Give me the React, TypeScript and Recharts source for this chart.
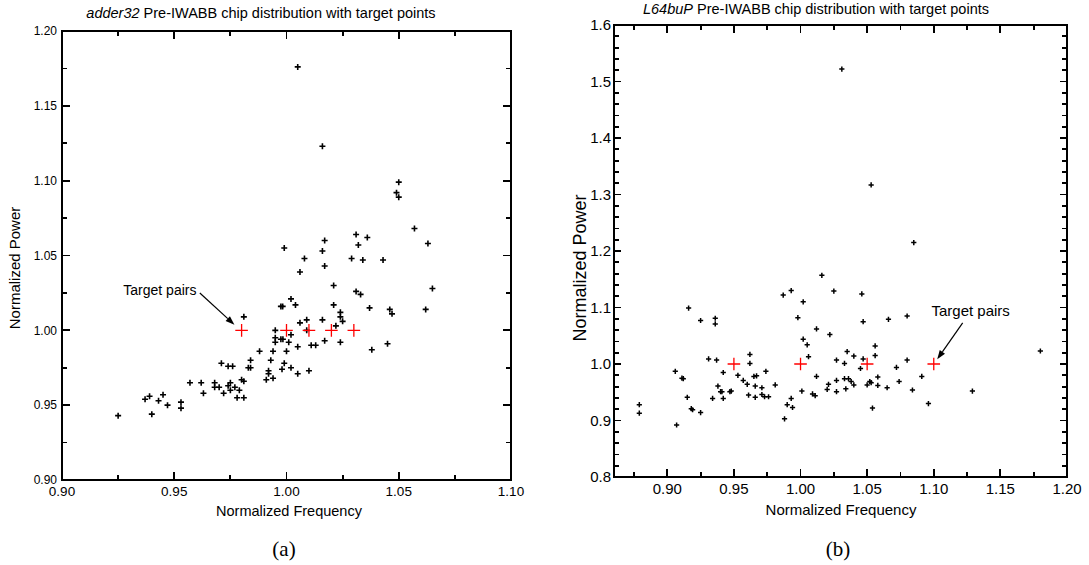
import React from "react";
import {
  ScatterChart,
  Scatter,
  XAxis,
  YAxis,
  ReferenceLine,
  ReferenceDot,
  ReferenceArea,
} from "recharts";

// ---- adder32 chip population (frequency, power) ----
const adderFreq = [
  0.925, 0.937, 0.939, 0.940, 0.943, 0.945, 0.947, 0.953, 0.953, 0.957,
  0.962, 0.963, 0.968, 0.968, 0.971, 0.970, 0.972, 0.974, 0.974, 0.975,
  0.976, 0.975, 0.977, 0.978, 0.979, 0.980, 0.981, 0.981, 0.981, 0.983,
  0.984, 0.984, 0.988, 0.991, 0.992, 0.992, 0.993, 0.994, 0.994, 0.995,
  0.995, 0.995, 0.9975, 0.9983, 0.9975, 0.9984, 0.998, 0.999, 1.000, 1.002,
  1.002, 1.001, 1.002, 1.004, 1.006, 1.005, 1.005, 1.009, 1.009, 1.010,
  1.011, 1.013, 1.016, 1.017, 1.021, 1.021, 1.022, 1.024, 1.024, 1.025,
  1.024, 1.031, 1.033, 1.037, 1.038, 1.046, 1.047, 1.045, 1.062, 1.065,
  1.006, 1.005, 1.016, 1.050, 1.049, 1.050, 1.057, 1.063, 0.999, 1.008,
  1.017, 1.016, 1.017, 1.031, 1.036, 1.032, 1.029, 1.034, 1.043,
];
const adderPower = [
  0.943, 0.954, 0.956, 0.944, 0.953, 0.957, 0.950, 0.952, 0.948, 0.965,
  0.965, 0.958, 0.965, 0.962, 0.978, 0.962, 0.958, 0.963, 0.976, 0.965,
  0.976, 0.960, 0.962, 0.955, 0.960, 0.967, 0.966, 0.955, 1.009, 0.975,
  0.980, 0.975, 0.986, 0.967, 0.973, 0.971, 0.980, 0.986, 0.968, 1.000,
  0.995, 0.992, 1.016, 1.016, 0.994, 0.994, 0.974, 0.978, 0.986, 1.021,
  0.997, 0.992, 0.975, 1.017, 1.005, 0.989, 0.971, 1.007, 1.000, 0.973,
  0.990, 0.990, 1.007, 0.993, 1.030, 1.017, 1.003, 1.012, 1.009, 1.006,
  0.992, 1.026, 1.024, 1.015, 0.987, 1.014, 1.011, 0.991, 1.014, 1.028,
  1.039, 1.176, 1.123, 1.099, 1.092, 1.089, 1.068, 1.058, 1.055, 1.048,
  1.060, 1.053, 1.043, 1.064, 1.062, 1.057, 1.048, 1.047, 1.047,
];
const adderTargetFreq = [0.98, 1.0, 1.01, 1.02, 1.03];
const adderTargetPower = [1.0, 1.0, 1.0, 1.0, 1.0];

// ---- L64buP chip population (frequency, power) ----
const l64Freq = [
  1.085, 1.031, 1.053, 1.016, 0.987, 0.993, 1.025, 1.046, 1.002, 0.916,
  0.925, 0.936, 0.936, 0.998, 1.047, 1.066, 1.080, 1.012, 1.022, 1.002,
  1.005, 1.056, 1.006, 1.035, 1.040, 1.056, 1.027, 1.047, 1.033, 1.045,
  0.931, 0.937, 0.962, 0.962, 1.080, 1.072, 1.180, 0.906, 0.942, 0.953,
  0.957, 0.960, 0.965, 0.967, 0.974, 0.966, 0.971, 0.911, 0.912, 0.938,
  0.940, 0.941, 0.947, 0.948, 0.934, 0.942, 0.915, 0.961, 0.966, 0.971,
  0.973, 0.976, 0.981, 0.918, 0.919, 0.925, 0.907, 0.879, 0.879, 0.988,
  0.990, 0.994, 0.993, 1.001, 1.009, 1.011, 1.012, 1.020, 1.021, 1.027,
  1.027, 1.033, 1.036, 1.034, 1.038, 1.040, 1.050, 1.052, 1.053, 1.058,
  1.058, 1.065, 1.054, 1.074, 1.084, 1.091, 1.096, 1.129,
];
const l64Power = [
  1.215, 1.522, 1.317, 1.157, 1.122, 1.130, 1.129, 1.124, 1.110, 1.099,
  1.077, 1.081, 1.071, 1.082, 1.075, 1.079, 1.085, 1.062, 1.052, 1.044,
  1.034, 1.032, 1.013, 1.022, 1.014, 1.015, 1.007, 1.009, 1.001, 0.992,
  1.009, 1.007, 1.017, 1.001, 1.007, 0.994, 1.023, 0.987, 0.985, 0.980,
  0.971, 0.964, 0.978, 0.979, 0.987, 0.961, 0.958, 0.975, 0.974, 0.961,
  0.951, 0.951, 0.951, 0.952, 0.939, 0.939, 0.941, 0.945, 0.941, 0.946,
  0.942, 0.942, 0.963, 0.921, 0.919, 0.914, 0.892, 0.928, 0.913, 0.903,
  0.928, 0.923, 0.939, 0.952, 0.947, 0.944, 0.978, 0.955, 0.964, 0.951,
  0.971, 0.974, 0.974, 0.956, 0.969, 0.963, 0.963, 0.969, 0.967, 0.977,
  0.962, 0.958, 0.922, 0.969, 0.954, 0.978, 0.930, 0.952,
];
const l64TargetFreq = [0.95, 1.0, 1.05, 1.1];
const l64TargetPower = [1.0, 1.0, 1.0, 1.0];

// ---- axis ticks ----
const adderXTicks = [0.9, 0.925, 0.95, 0.975, 1.0, 1.025, 1.05, 1.075, 1.1];
const adderYTicks = [
  0.9, 0.925, 0.95, 0.975, 1.0, 1.025, 1.05, 1.075, 1.1, 1.125, 1.15, 1.175, 1.2,
];
const l64XTicks = [
  0.875, 0.9, 0.925, 0.95, 0.975, 1.0, 1.025, 1.05, 1.075, 1.1, 1.125, 1.15,
  1.175, 1.2,
];
const l64YTicks = [
  0.8, 0.82, 0.84, 0.86, 0.88, 0.9, 0.92, 0.94, 0.96, 0.98, 1.0, 1.02, 1.04,
  1.06, 1.08, 1.1, 1.12, 1.14, 1.16, 1.18, 1.2, 1.22, 1.24, 1.26, 1.28, 1.3,
  1.32, 1.34, 1.36, 1.38, 1.4, 1.42, 1.44, 1.46, 1.48, 1.5, 1.52, 1.54, 1.56,
  1.58, 1.6,
];

// annotation anchors (data units)
const adderNoteText = { x: 0.9436, y: 1.0268 };
const adderNoteArrow = [
  { x: 0.9614, y: 1.0249 },
  { x: 0.9768, y: 1.0038 },
];
const l64NoteText = { x: 1.1277, y: 1.0941 };
const l64NoteArrow = [
  { x: 1.1217, y: 1.0729 },
  { x: 1.1026, y: 1.0085 },
];

const ADDER_X: [number, number] = [0.9, 1.1];
const ADDER_Y: [number, number] = [0.9, 1.2];
const L64_X: [number, number] = [0.86, 1.2];
const L64_Y: [number, number] = [0.8, 1.6];

const zip = (xs: number[], ys: number[]) => xs.map((x, i) => ({ x, y: ys[i] }));
const adderData = zip(adderFreq, adderPower);
const adderTargets = zip(adderTargetFreq, adderTargetPower);
const l64Data = zip(l64Freq, l64Power);
const l64Targets = zip(l64TargetFreq, l64TargetPower);

const SANS = '"Liberation Sans", Arial, Helvetica, sans-serif';
const isMultiple = (v: number, step: number) =>
  Math.abs(v / step - Math.round(v / step)) < 1e-6;

// "+" marker
const makePlus = (arm: number, color: string, width: number) => (props: any) => {
  const { cx, cy } = props;
  if (cx == null || cy == null) return <g />;
  return (
    <path
      d={`M${cx - arm},${cy}H${cx + arm}M${cx},${cy - arm}V${cy + arm}`}
      stroke={color}
      strokeWidth={width}
      fill="none"
    />
  );
};

// tick labels for the major ticks
const makeLabel = (
  side: "bottom" | "left",
  majorStep: number,
  fmt: (v: number) => string,
  fontSize: number,
  gap: number
) => (props: any) => {
  const { x, y, payload } = props;
  const v = payload.value as number;
  if (!isMultiple(v, majorStep)) return <g />;
  if (side === "bottom") {
    return (
      <text x={x} y={y + gap} textAnchor="middle" fontSize={fontSize} fontFamily={SANS} fill="#000">
        {fmt(v)}
      </text>
    );
  }
  return (
    <text x={x - gap} y={y} dy="0.36em" textAnchor="end" fontSize={fontSize} fontFamily={SANS} fill="#000">
      {fmt(v)}
    </text>
  );
};

type FrameSpec = {
  xd: [number, number];
  yd: [number, number];
  xTicks: number[];
  yTicks: number[];
  xMajor: number;
  yMajor: number;
  xLen: [number, number];
  yLen: [number, number];
};

// plot box spanning both full domains: frame plus inward ticks on all four edges
const makeFrame = (s: FrameSpec) => (props: any) => {
  const x = Number(props.x);
  const y = Number(props.y);
  const width = Number(props.width);
  const height = Number(props.height);
  if ([x, y, width, height].some((v) => !Number.isFinite(v))) return <g />;
  const px = (v: number) => x + ((v - s.xd[0]) / (s.xd[1] - s.xd[0])) * width;
  const py = (v: number) => y + height - ((v - s.yd[0]) / (s.yd[1] - s.yd[0])) * height;
  const bottom = y + height;
  const right = x + width;
  const marks: React.ReactNode[] = [];
  s.xTicks.forEach((v, i) => {
    const len = isMultiple(v, s.xMajor) ? s.xLen[0] : s.xLen[1];
    const xx = px(v);
    marks.push(
      <line key={`xb${i}`} x1={xx} y1={bottom} x2={xx} y2={bottom - len} />,
      <line key={`xt${i}`} x1={xx} y1={y} x2={xx} y2={y + len} />
    );
  });
  s.yTicks.forEach((v, i) => {
    const len = isMultiple(v, s.yMajor) ? s.yLen[0] : s.yLen[1];
    const yy = py(v);
    marks.push(
      <line key={`yl${i}`} x1={x} y1={yy} x2={x + len} y2={yy} />,
      <line key={`yr${i}`} x1={right} y1={yy} x2={right - len} y2={yy} />
    );
  });
  return (
    <g>
      <g stroke="#000" strokeWidth={1.8} shapeRendering="crispEdges">
        {marks}
      </g>
      <rect
        x={x}
        y={y}
        width={width}
        height={height}
        fill="none"
        stroke="#000"
        strokeWidth={1.8}
        shapeRendering="crispEdges"
      />
    </g>
  );
};

const ArrowShape = (props: any) => {
  const { x1, y1, x2, y2 } = props;
  if ([x1, y1, x2, y2].some((v) => v == null)) return <g />;
  const ang = Math.atan2(y2 - y1, x2 - x1);
  const hl = 9;
  const hw = 3.2;
  const bx = x2 - hl * Math.cos(ang);
  const by = y2 - hl * Math.sin(ang);
  const qx = -Math.sin(ang) * hw;
  const qy = Math.cos(ang) * hw;
  return (
    <g>
      <line x1={x1} y1={y1} x2={bx} y2={by} stroke="#000" strokeWidth={1.2} />
      <polygon points={`${x2},${y2} ${bx + qx},${by + qy} ${bx - qx},${by - qy}`} fill="#000" />
    </g>
  );
};

const NoteText = (fontSize: number) => (props: any) => {
  const { cx, cy } = props;
  if (cx == null || cy == null) return <g />;
  return (
    <text x={cx} y={cy} dy="0.36em" textAnchor="middle" fontSize={fontSize} fontFamily={SANS} fill="#000">
      Target pairs
    </text>
  );
};

const adderFrame = makeFrame({
  xd: ADDER_X,
  yd: ADDER_Y,
  xTicks: adderXTicks,
  yTicks: adderYTicks,
  xMajor: 0.05,
  yMajor: 0.05,
  xLen: [8, 5],
  yLen: [8, 5],
});
const l64Frame = makeFrame({
  xd: L64_X,
  yd: L64_Y,
  xTicks: l64XTicks,
  yTicks: l64YTicks,
  xMajor: 0.05,
  yMajor: 0.1,
  xLen: [8, 5],
  yLen: [7, 5],
});

export default function App() {
  return (
    <div
      style={{
        position: "absolute",
        left: 0,
        top: 0,
        width: 1089,
        height: 565,
        background: "#fff",
        overflow: "hidden",
      }}
    >
      {/* (a) adder32 */}
      <div style={{ position: "absolute", left: 0, top: 0 }}>
        <ScatterChart width={560} height={565} margin={{ top: 31, right: 49, bottom: 0, left: 0 }}>
          <XAxis
            xAxisId="b"
            type="number"
            dataKey="x"
            domain={ADDER_X}
            allowDataOverflow
            ticks={adderXTicks}
            interval={0}
            height={85}
            tickSize={0}
            tickMargin={0}
            tickLine={false}
            axisLine={false}
            tick={makeLabel("bottom", 0.05, (v) => v.toFixed(2), 13.5, 15.5)}
          />
          <YAxis
            yAxisId="l"
            type="number"
            dataKey="y"
            domain={ADDER_Y}
            allowDataOverflow
            ticks={adderYTicks}
            interval={0}
            width={62}
            tickSize={0}
            tickMargin={0}
            tickLine={false}
            axisLine={false}
            tick={makeLabel("left", 0.05, (v) => v.toFixed(2), 12, 5)}
          />
          <ReferenceArea
            xAxisId="b"
            yAxisId="l"
            x1={ADDER_X[0]}
            x2={ADDER_X[1]}
            y1={ADDER_Y[0]}
            y2={ADDER_Y[1]}
            ifOverflow="visible"
            shape={adderFrame}
          />
          <Scatter
            xAxisId="b"
            yAxisId="l"
            data={adderData}
            isAnimationActive={false}
            shape={makePlus(3, "#000", 1.6)}
          />
          <Scatter
            xAxisId="b"
            yAxisId="l"
            data={adderTargets}
            isAnimationActive={false}
            shape={makePlus(6.3, "#ff0000", 1.3)}
          />
          <ReferenceLine
            xAxisId="b"
            yAxisId="l"
            segment={adderNoteArrow}
            shape={ArrowShape}
          />
          <ReferenceDot
            xAxisId="b"
            yAxisId="l"
            x={adderNoteText.x}
            y={adderNoteText.y}
            r={0}
            shape={NoteText(14)}
          />
        </ScatterChart>
      </div>

      {/* (b) L64buP */}
      <div style={{ position: "absolute", left: 560, top: 0 }}>
        <ScatterChart width={529} height={565} margin={{ top: 25, right: 22, bottom: 0, left: 0 }}>
          <XAxis
            xAxisId="b"
            type="number"
            dataKey="x"
            domain={L64_X}
            allowDataOverflow
            ticks={l64XTicks}
            interval={0}
            height={88}
            tickSize={0}
            tickMargin={0}
            tickLine={false}
            axisLine={false}
            tick={makeLabel("bottom", 0.05, (v) => v.toFixed(2), 15, 16.5)}
          />
          <YAxis
            yAxisId="l"
            type="number"
            dataKey="y"
            domain={L64_Y}
            allowDataOverflow
            ticks={l64YTicks}
            interval={0}
            width={54}
            tickSize={0}
            tickMargin={0}
            tickLine={false}
            axisLine={false}
            tick={makeLabel("left", 0.1, (v) => v.toFixed(1), 15, 3)}
          />
          <ReferenceArea
            xAxisId="b"
            yAxisId="l"
            x1={L64_X[0]}
            x2={L64_X[1]}
            y1={L64_Y[0]}
            y2={L64_Y[1]}
            ifOverflow="visible"
            shape={l64Frame}
          />
          <Scatter
            xAxisId="b"
            yAxisId="l"
            data={l64Data}
            isAnimationActive={false}
            shape={makePlus(2.6, "#000", 1.5)}
          />
          <Scatter
            xAxisId="b"
            yAxisId="l"
            data={l64Targets}
            isAnimationActive={false}
            shape={makePlus(6.3, "#ff0000", 1.3)}
          />
          <ReferenceLine
            xAxisId="b"
            yAxisId="l"
            segment={l64NoteArrow}
            shape={ArrowShape}
          />
          <ReferenceDot
            xAxisId="b"
            yAxisId="l"
            x={l64NoteText.x}
            y={l64NoteText.y}
            r={0}
            shape={NoteText(15)}
          />
        </ScatterChart>
      </div>

      {/* titles, axis names and captions */}
      <svg
        width={1089}
        height={565}
        style={{ position: "absolute", left: 0, top: 0, pointerEvents: "none" }}
      >
        <g fontFamily={SANS} fill="#000">
          <text x={261} y={13} dy="0.36em" textAnchor="middle" fontSize={14.5}>
            <tspan fontStyle="italic">adder32</tspan> Pre-IWABB chip distribution with target points
          </text>
          <text x={816} y={8.5} dy="0.36em" textAnchor="middle" fontSize={14.5}>
            <tspan fontStyle="italic">L64buP</tspan> Pre-IWABB chip distribution with target points
          </text>
          <text x={289} y={511} dy="0.36em" textAnchor="middle" fontSize={14.5}>
            Normalized Frequency
          </text>
          <text x={841} y={510} dy="0.36em" textAnchor="middle" fontSize={15}>
            Normalized Frequency
          </text>
          <text
            x={15}
            y={268}
            dy="0.36em"
            textAnchor="middle"
            fontSize={15}
            transform="rotate(-90 15 268)"
          >
            Normalized Power
          </text>
          <text
            x={580}
            y={268}
            dy="0.36em"
            textAnchor="middle"
            fontSize={18}
            transform="rotate(-90 580 268)"
          >
            Normalized Power
          </text>
        </g>
        <g fontFamily='"Liberation Serif", "DejaVu Serif", serif' fill="#000" fontSize={21}>
          <text x={284} y={548} dy="0.36em" textAnchor="middle">(a)</text>
          <text x={838} y={548} dy="0.36em" textAnchor="middle">(b)</text>
        </g>
      </svg>
    </div>
  );
}
